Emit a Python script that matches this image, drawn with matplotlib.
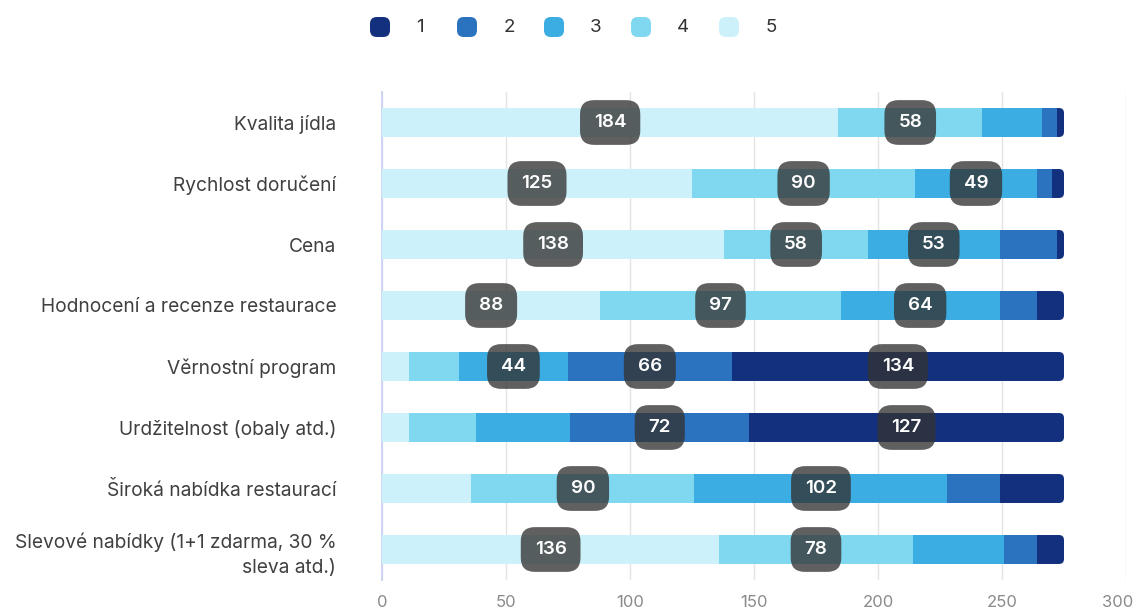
import numpy as np
import matplotlib
matplotlib.use("Agg")
import matplotlib.pyplot as plt
import matplotlib.transforms as mtransforms
from matplotlib.patches import FancyBboxPatch

plt.rcParams['font.family'] = ['Inter', 'DejaVu Sans']

# survey answers per criterion, rating 1..5
categories = [
    "Kvalita jídla",
    "Rychlost doručení",
    "Cena",
    "Hodnocení a recenze restaurace",
    "Věrnostní program",
    "Urdžitelnost (obaly atd.)",
    "Široká nabídka restaurací",
    "Slevové nabídky (1+1 zdarma, 30 %\nsleva atd.)",
]
r5 = [184, 125, 138, 88, 11, 11, 36, 136]
r4 = [58, 90, 58, 97, 20, 27, 90, 78]
r3 = [24, 49, 53, 64, 44, 38, 102, 37]
r2 = [6, 6, 23, 15, 66, 72, 21, 13]
r1 = [3, 5, 3, 11, 134, 127, 26, 11]

legend_labels = ["1", "2", "3", "4", "5"]
colors = {"1": "#12307e", "2": "#2c73bf", "3": "#3bade2", "4": "#80d8f0", "5": "#cdf1fa"}

W, H = 1136, 614
fig = plt.figure(figsize=(W / 100, H / 100), dpi=100)
ax = fig.add_axes([382 / W, 1 - 580 / H, (1126 - 382) / W, (580 - 92) / H])

y = np.arange(len(categories))
bar_h = 0.475
ax.set_xlim(0, 300)
ax.set_ylim(len(categories) - 0.5, -0.5)


def value_label(xc, yc, v):
    ax.text(xc, yc, f"{int(v)}", ha="center", va="center",
            color="white", fontsize=13.5, fontweight="semibold", zorder=6,
            bbox=dict(boxstyle="round,pad=0.74,rounding_size=0.75", fc="#333333",
                      ec="none", alpha=0.78))


# stack from 5 (left) to 1 (right)
stack = [("5", r5), ("4", r4), ("3", r3), ("2", r2)]
left = np.zeros(len(categories))
for key, vals in stack:
    vals = np.array(vals, dtype=float)
    ax.barh(y, vals, left=left, height=bar_h, color=colors[key], zorder=3)
    for i in range(len(categories)):
        if vals[i] >= 40:
            value_label(left[i] + vals[i] / 2, y[i], vals[i])
    left += vals

# last segment gets the rounded right end; its left corners hide under segment 2
px_x = 300 / 744
px_y = len(categories) / 488
rad = 5 * px_x
aspect = px_y / px_x
vals1 = np.array(r1, dtype=float)
for i in range(len(categories)):
    x0 = left[i] - 3
    p = FancyBboxPatch((x0, y[i] - bar_h / 2), vals1[i] + 3, bar_h,
                       boxstyle=f"round,pad=0,rounding_size={rad}",
                       mutation_aspect=aspect, fc=colors["1"], ec="none", zorder=2)
    ax.add_patch(p)
    if vals1[i] >= 40:
        value_label(left[i] + vals1[i] / 2, y[i], vals1[i])

ax.set_yticks(y)
ax.set_yticklabels(categories, fontsize=13.8, color="#404040", ha="right",
                   linespacing=1.45)
ax.set_xticks(np.arange(0, 301, 50))
ax.tick_params(axis="y", length=0, pad=33)
ax.tick_params(axis="x", length=0, pad=11, labelsize=12, labelcolor="#8a8a8a")
ax.grid(axis="x", color="#e3e3e3", lw=1)
ax.set_axisbelow(True)
for s in ["top", "right", "bottom"]:
    ax.spines[s].set_visible(False)
ax.spines["left"].set_color("#c5cff2")
ax.spines["left"].set_linewidth(1.2)

# keep the last x label inside the canvas
last = ax.get_xticklabels()[-1]
last.set_horizontalalignment("right")
last.set_transform(last.get_transform() + mtransforms.ScaledTranslation(0.07, 0, fig.dpi_scale_trans))

# legend row at the top
box_x = [380, 467, 554, 641, 729]
text_x = [420, 509, 596, 683, 771]
ly = 27
for lab, bx, tx in zip(legend_labels, box_x, text_x):
    sq = FancyBboxPatch(((bx - 10) / W, 1 - (ly + 10) / H), 20 / W, 20 / H,
                        boxstyle="round,pad=0,rounding_size=0.006",
                        mutation_aspect=W / H, transform=fig.transFigure,
                        fc=colors[lab], ec="none")
    fig.add_artist(sq)
    fig.text(tx / W, 1 - ly / H, lab, ha="center", va="center", fontsize=13.5, color="#333333")

fig.savefig("out.png", dpi=100, facecolor="white")
